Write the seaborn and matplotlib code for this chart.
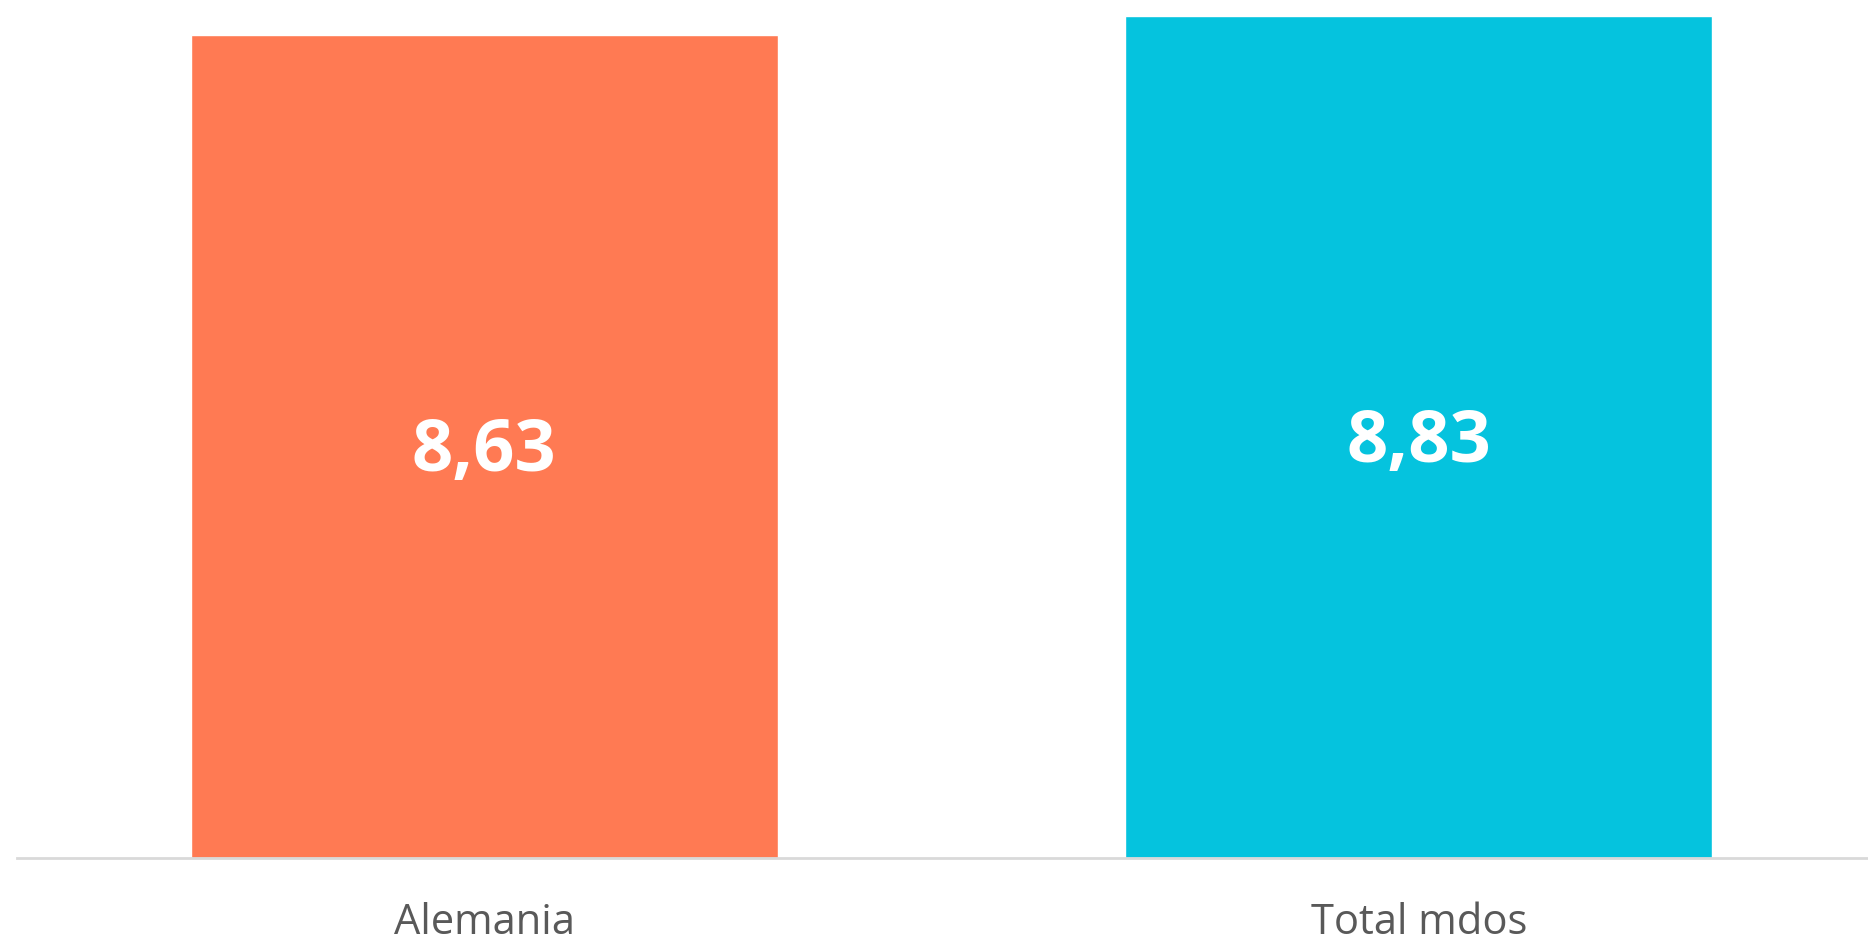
import matplotlib.pyplot as plt
import seaborn as sns
import pandas as pd

# data
categories = ["Alemania", "Total mdos"]
values = [8.63, 8.83]
bar_colors = ["#FF7A53", "#05C3DE"]
value_labels = ["8,63", "8,83"]

sns.set_style("white")
plt.rcParams['font.family'] = ['Open Sans', 'DejaVu Sans']

df = pd.DataFrame({"cat": categories, "val": values})

fig = plt.figure(figsize=(18.68, 9.49), dpi=100)
ax = fig.add_axes([16.7 / 1868, 1 - 858 / 949, 1869.4 / 1868, 858 / 949])

sns.barplot(data=df, x="cat", y="val", hue="cat", palette=bar_colors,
            width=0.628, saturation=1, legend=False, ax=ax)

ax.set_xlim(-0.5, 1.5)
ax.set_ylim(0, 9.0)

# value labels centred in each bar
for i, (v, lab) in enumerate(zip(values, value_labels)):
    ax.annotate(lab, xy=(i, v / 2), xytext=(0, -4), textcoords='offset points',
                ha='center', va='center', color='white',
                fontsize=52, fontweight='bold')

ax.set_xlabel('')
ax.set_ylabel('')
ax.set_yticks([])
ax.tick_params(axis='x', length=0, pad=32, labelsize=30, labelcolor='#595959')

for side in ['top', 'right', 'left']:
    ax.spines[side].set_visible(False)
ax.spines['bottom'].set_color('#D9D9D9')
ax.spines['bottom'].set_linewidth(2)

fig.savefig("out.png", dpi=100)
